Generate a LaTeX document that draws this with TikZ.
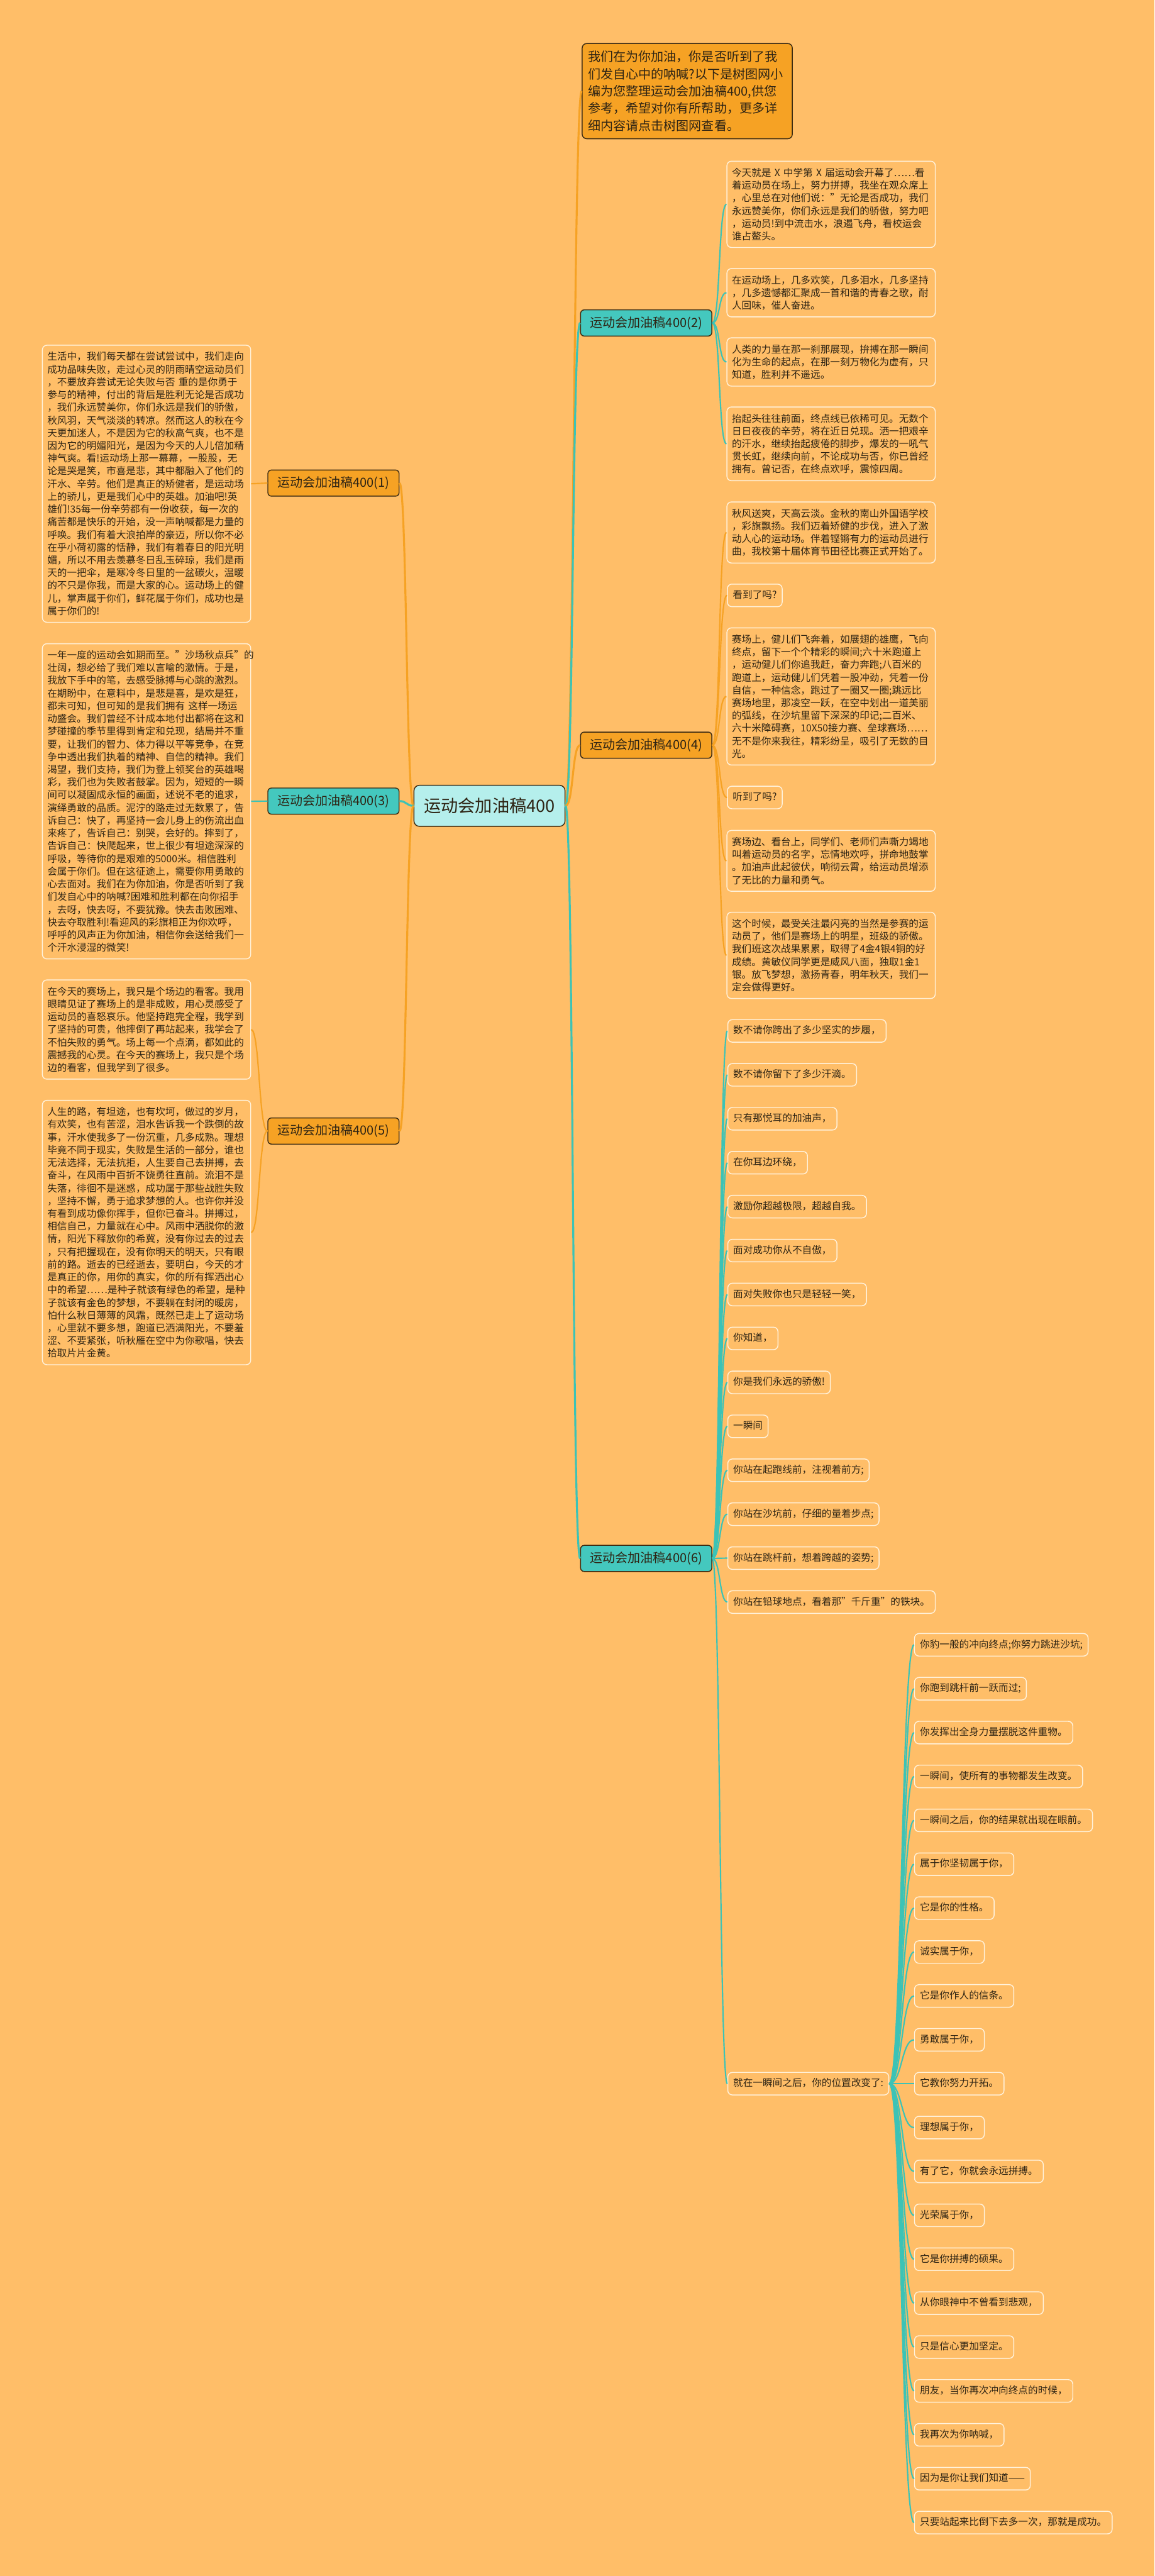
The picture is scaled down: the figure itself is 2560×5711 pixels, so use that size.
\documentclass[tikz,border=0pt]{standalone}
\usepackage{fontspec}
\setmainfont{Noto Sans CJK SC}
\definecolor{bgc}{HTML}{FFBE68}
\definecolor{orc}{HTML}{F6A224}
\definecolor{tlc}{HTML}{3CC3B6}
\definecolor{tlfill}{HTML}{44C8BE}
\definecolor{cfill}{HTML}{B5EFEC}
\definecolor{dark}{HTML}{3A2A12}
\definecolor{txtc}{HTML}{2E2414}
\definecolor{boxline}{HTML}{FFF2DC}
\tikzset{
  boxbase/.style={draw=boxline, line width=1pt, fill=bgc, rounded corners=5pt, text=txtc, font=\fontsize{10.9}{14.1}\selectfont},
  para/.style={boxbase, align=left, text width=220pt, inner xsep=5.5pt, inner ysep=7.5pt},
  leaf/.style={boxbase, anchor=west, inner xsep=6pt, inner ysep=7.25pt, text height=8.5pt, text depth=2pt},
  brbase/.style={draw=dark, line width=1pt, rounded corners=4pt, minimum width=145.5pt, minimum height=29pt, font=\fontsize{14}{16}\selectfont, text=txtc, inner sep=2pt},
  brO/.style={brbase, fill=orc},
  brT/.style={brbase, fill=tlfill},
  lnO/.style={draw=orc, line width=1.5pt},
  lnT/.style={draw=tlc, line width=1.5pt},
  mainO/.style={draw=orc, line width=2.2pt},
  mainT/.style={draw=tlc, line width=2.2pt}
}
\begin{document}
\begin{tikzpicture}[x=0.5pt,y=-0.5pt]
\useasboundingbox (0,0) rectangle (2560,5711);
\fill[bgc] (0,0) rectangle (2560,5711);

% centre
\node[draw=dark, line width=1pt, fill=cfill, rounded corners=6pt, minimum width=167.5pt, minimum height=45.5pt, font=\fontsize{19}{22}\selectfont, text=txtc] (ctr) at (1085.5,1786.5) {运动会加油稿400};

% intro
\node[draw=dark, line width=1pt, fill=orc, rounded corners=5pt, anchor=west, text width=220pt, inner xsep=6.5pt, inner ysep=8pt, align=left, font=\fontsize{14}{19.15}\selectfont, text=txtc] (intro) at (1290,202) {我们在为你加油，你是否听到了我\\们发自心中的呐喊?以下是树图网小\\编为您整理运动会加油稿400,供您\\参考，希望对你有所帮助，更多详\\细内容请点击树图网查看。};

% branches
\node[brO] (b1) at (739.5,1071) {运动会加油稿400(1)};
\node[brT] (b3) at (739.5,1776) {运动会加油稿400(3)};
\node[brO] (b5) at (739.5,2507.5) {运动会加油稿400(5)};
\node[brT] (b2) at (1433,716) {运动会加油稿400(2)};
\node[brO] (b4) at (1433,1652) {运动会加油稿400(4)};
\node[brT] (b6) at (1433,3455) {运动会加油稿400(6)};

% left paragraphs
\node[para] (p1) at (325,1072.5) {生活中，我们每天都在尝试尝试中，我们走向\\
成功品味失败，走过心灵的阴雨晴空运动员们\\
，不要放弃尝试无论失败与否~重的是你勇于\\
参与的精神，付出的背后是胜利无论是否成功\\
，我们永远赞美你，你们永远是我们的骄傲，\\
秋风羽，天气淡淡的转凉。然而这人的秋在今\\
天更加迷人，不是因为它的秋高气爽，也不是\\
因为它的明媚阳光，是因为今天的人儿倍加精\\
神气爽。看!运动场上那一幕幕，一股股，无\\
论是哭是笑，市喜是悲，其中都融入了他们的\\
汗水、辛劳。他们是真正的矫健者，是运动场\\
上的骄儿，更是我们心中的英雄。加油吧!英\\
雄们!35每一份辛劳都有一份收获，每一次的\\
痛苦都是快乐的开始，没一声呐喊都是力量的\\
呼唤。我们有着大浪拍岸的豪迈，所以你不必\\
在乎小荷初露的恬静，我们有着春日的阳光明\\
媚，所以不用去羡慕冬日乱玉碎琼，我们是雨\\
天的一把伞，是寒冷冬日里的一盆碳火，温暖\\
的不只是你我，而是大家的心。运动场上的健\\
儿，掌声属于你们，鲜花属于你们，成功也是\\
属于你们的!};

\node[para] (p3) at (325,1776.5) {一年一度的运动会如期而至。"沙场秋点兵"的\\
壮阔，想必给了我们难以言喻的激情。于是，\\
我放下手中的笔，去感受脉搏与心跳的激烈。\\
在期盼中，在意料中，是悲是喜，是欢是狂，\\
都未可知，但可知的是我们拥有~这样一场运\\
动盛会。我们曾经不计成本地付出都将在这和\\
梦碰撞的季节里得到肯定和兑现，结局并不重\\
要，让我们的智力、体力得以平等竞争，在竞\\
争中透出我们执着的精神、自信的精神。我们\\
渴望，我们支持，我们为登上领奖台的英雄喝\\
彩，我们也为失败者鼓掌。因为，短短的一瞬\\
间可以凝固成永恒的画面，述说不老的追求，\\
演绎勇敢的品质。泥泞的路走过无数累了，告\\
诉自己：快了，再坚持一会儿身上的伤流出血\\
来疼了，告诉自己：别哭，会好的。摔到了，\\
告诉自己：快爬起来，世上很少有坦途深深的\\
呼吸，等待你的是艰难的5000米。相信胜利\\
会属于你们。但在这征途上，需要你用勇敢的\\
心去面对。我们在为你加油，你是否听到了我\\
们发自心中的呐喊?困难和胜利都在向你招手\\
，去呀，快去呀，不要犹豫。快去击败困难、\\
快去夺取胜利!看迎风的彩旗相正为你欢呼，\\
呼呼的风声正为你加油，相信你会送给我们一\\
个汗水浸湿的微笑!};

\node[para] (p5a) at (325,2282.5) {在今天的赛场上，我只是个场边的看客。我用\\
眼睛见证了赛场上的是非成败，用心灵感受了\\
运动员的喜怒哀乐。他坚持跑完全程，我学到\\
了坚持的可贵，他摔倒了再站起来，我学会了\\
不怕失败的勇气。场上每一个点滴，都如此的\\
震撼我的心灵。在今天的赛场上，我只是个场\\
边的看客，但我学到了很多。};

\node[para] (p5b) at (325,2732.5) {人生的路，有坦途，也有坎坷，做过的岁月，\\
有欢笑，也有苦涩，泪水告诉我一个跌倒的故\\
事，汗水使我多了一份沉重，几多成熟。理想\\
毕竟不同于现实，失败是生活的一部分，谁也\\
无法选择，无法抗拒，人生要自己去拼搏，去\\
奋斗，在风雨中百折不饶勇往直前。流泪不是\\
失落，徘徊不是迷惑，成功属于那些战胜失败\\
，坚持不懈，勇于追求梦想的人。也许你并没\\
有看到成功像你挥手，但你已奋斗。拼搏过，\\
相信自己，力量就在心中。风雨中洒脱你的激\\
情，阳光下释放你的希冀，没有你过去的过去\\
，只有把握现在，没有你明天的明天，只有眼\\
前的路。逝去的已经逝去，要明白，今天的才\\
是真正的你，用你的真实，你的所有挥洒出心\\
中的希望……是种子就该有绿色的希望，是种\\
子就该有金色的梦想，不要躺在封闭的暖房，\\
怕什么秋日薄薄的风霜，既然已走上了运动场\\
，心里就不要多想，跑道已洒满阳光，不要羞\\
涩、不要紧张，听秋雁在空中为你歌唱，快去\\
拾取片片金黄。};

% branch 2 paragraphs
\node[para] (q2a) at (1843,453) {今天就是~X~中学第~X~届运动会开幕了……看\\
着运动员在场上，努力拼搏，我坐在观众席上\\
，心里总在对他们说："无论是否成功，我们\\
永远赞美你，你们永远是我们的骄傲，努力吧\\
，运动员!到中流击水，浪遏飞舟，看校运会\\
谁占鳌头。};
\node[para] (q2b) at (1843,649) {在运动场上，几多欢笑，几多泪水，几多坚持\\
，几多遗憾都汇聚成一首和谐的青春之歌，耐\\
人回味，催人奋进。};
\node[para] (q2c) at (1843,802.5) {人类的力量在那一刹那展现，拚搏在那一瞬间\\
化为生命的起点，在那一刻万物化为虚有，只\\
知道，胜利并不遥远。};
\node[para] (q2d) at (1843,984) {抬起头往往前面，终点线已依稀可见。无数个\\
日日夜夜的辛劳，将在近日兑现。洒一把艰辛\\
的汗水，继续抬起疲倦的脚步，爆发的一吼气\\
贯长虹，继续向前，不论成功与否，你已曾经\\
拥有。曾记否，在终点欢呼，震惊四周。};

% branch 4 paragraphs
\node[para] (q4a) at (1843,1180.5) {秋风送爽，天高云淡。金秋的南山外国语学校\\
，彩旗飘扬。我们迈着矫健的步伐，进入了激\\
动人心的运动场。伴着铿锵有力的运动员进行\\
曲，我校第十届体育节田径比赛正式开始了。};
\node[leaf] (q4b) at (1612,1320) {看到了吗?};
\node[para] (q4c) at (1843,1544) {赛场上，健儿们飞奔着，如展翅的雄鹰，飞向\\
终点，留下一个个精彩的瞬间;六十米跑道上\\
，运动健儿们你追我赶，奋力奔跑;八百米的\\
跑道上，运动健儿们凭着一股冲劲，凭着一份\\
自信，一种信念，跑过了一圈又一圈;跳远比\\
赛场地里，那凌空一跃，在空中划出一道美丽\\
的弧线，在沙坑里留下深深的印记;二百米、\\
六十米障碍赛，10X50接力赛、垒球赛场……\\
无不是你来我往，精彩纷呈，吸引了无数的目\\
光。};
\node[leaf] (q4d) at (1612,1768) {听到了吗?};
\node[para] (q4e) at (1843,1908.5) {赛场边、看台上，同学们、老师们声嘶力竭地\\
叫着运动员的名字，忘情地欢呼，拼命地鼓掌\\
。加油声此起彼伏，响彻云霄，给运动员增添\\
了无比的力量和勇气。};
\node[para] (q4f) at (1843,2118) {这个时候，最受关注最闪亮的当然是参赛的运\\
动员了，他们是赛场上的明星，班级的骄傲。\\
我们班这次战果累累，取得了4金4银4铜的好\\
成绩。黄敏仪同学更是威风八面，独取1金1\\
银。放飞梦想，激扬青春，明年秋天，我们一\\
定会做得更好。};

% branch 6 items
\foreach \t [count=\k] in {
  {数不请你跨出了多少坚实的步履，},
  {数不请你留下了多少汗滴。},
  {只有那悦耳的加油声，},
  {在你耳边环绕，},
  {激励你超越极限，超越自我。},
  {面对成功你从不自傲，},
  {面对失败你也只是轻轻一笑，},
  {你知道，},
  {你是我们永远的骄傲!},
  {一瞬间},
  {你站在起跑线前，注视着前方;},
  {你站在沙坑前，仔细的量着步点;},
  {你站在跳杆前，想着跨越的姿势;},
  {你站在铅球地点，看着那"千斤重"的铁块。}}
  { \node[leaf] (i\k) at (1613,{2285.5+97.4*(\k-1)}) {\t}; }
\node[leaf] (hub) at (1613,4619.5) {就在一瞬间之后，你的位置改变了:};

\foreach \t [count=\k] in {
  {你豹一般的冲向终点;你努力跳进沙坑;},
  {你跑到跳杆前一跃而过;},
  {你发挥出全身力量摆脱这件重物。},
  {一瞬间，使所有的事物都发生改变。},
  {一瞬间之后，你的结果就出现在眼前。},
  {属于你坚韧属于你，},
  {它是你的性格。},
  {诚实属于你，},
  {它是你作人的信条。},
  {勇敢属于你，},
  {它教你努力开拓。},
  {理想属于你，},
  {有了它，你就会永远拼搏。},
  {光荣属于你，},
  {它是你拼搏的硕果。},
  {从你眼神中不曾看到悲观，},
  {只是信心更加坚定。},
  {朋友，当你再次冲向终点的时候，},
  {我再次为你呐喊，},
  {因为是你让我们知道——},
  {只要站起来比倒下去多一次，那就是成功。}}
  { \node[leaf] (s\k) at (2027,{3646.5+97.3*(\k-1)}) {\t}; }

% main connectors
\draw[mainO] (ctr.east) .. controls +(18,0) and +(-18,0) .. (intro.west);
\draw[mainT] (ctr.east) .. controls +(18,0) and +(-18,0) .. (b2.west);
\draw[mainO] (ctr.east) .. controls +(18,0) and +(-18,0) .. (b4.west);
\draw[mainT] (ctr.east) .. controls +(18,0) and +(-18,0) .. (b6.west);
\draw[mainO] (ctr.west) .. controls +(-16,0) and +(16,0) .. (b1.east);
\draw[mainT] (ctr.west) .. controls +(-16,0) and +(16,0) .. (b3.east);
\draw[mainO] (ctr.west) .. controls +(-16,0) and +(16,0) .. (b5.east);

% leaf connectors
\draw[lnO] (b1.west) .. controls +(-19,0) and +(19,0) .. (p1.east);
\draw[lnT] (b3.west) .. controls +(-19,0) and +(19,0) .. (p3.east);
\draw[lnO] (b5.west) .. controls +(-19,0) and +(19,0) .. (p5a.east);
\draw[lnO] (b5.west) .. controls +(-19,0) and +(19,0) .. (p5b.east);
\foreach \n in {q2a,q2b,q2c,q2d}
  \draw[lnT] (b2.east) .. controls +(18,0) and +(-18,0) .. (\n.west);
\foreach \n in {q4a,q4b,q4c,q4d,q4e,q4f}
  \draw[lnO] (b4.east) .. controls +(18,0) and +(-18,0) .. (\n.west);
\foreach \k in {1,...,14}
  \draw[lnT] (b6.east) .. controls +(18,0) and +(-18,0) .. (i\k.west);
\draw[lnT] (b6.east) .. controls +(18,0) and +(-18,0) .. (hub.west);
\foreach \k in {1,...,21}
  \draw[lnT] (hub.east) .. controls +(28,0) and +(-28,0) .. (s\k.west);
\end{tikzpicture}
\end{document}
